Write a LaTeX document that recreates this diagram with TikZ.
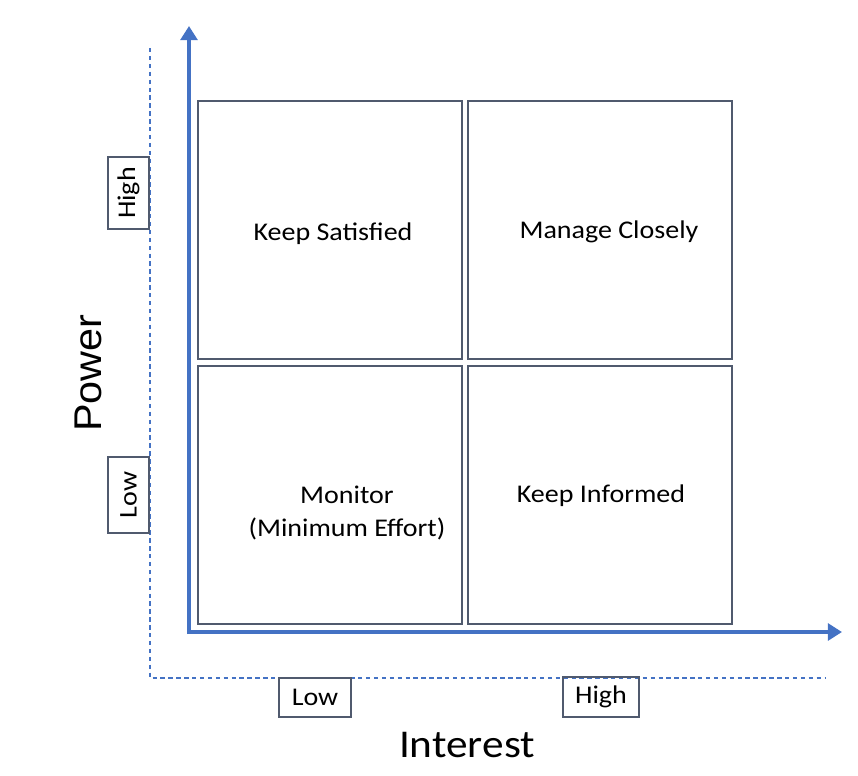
\documentclass[tikz,border=0pt]{standalone}
\usepackage{fontspec}
\setmainfont{Carlito}[FakeStretch=1.1]
\newfontfamily\arialwide{Liberation Sans}[FakeStretch=1.07]
\usetikzlibrary{arrows.meta}

\definecolor{axisblue}{RGB}{68,114,196}
\definecolor{boxgray}{RGB}{80,90,110}

\tikzset{
    quad/.style={draw=boxgray, line width=1.1pt, minimum width=264*0.02cm, minimum height=258*0.02cm, inner sep=0},
    tag/.style={draw=boxgray, line width=0.9pt, inner sep=0, font=\fontsize{14.5}{17}\selectfont},
    axis/.style={axisblue, line width=2.3pt, -{Triangle[length=8pt,width=9.5pt]}},
    guide/.style={axisblue, line width=0.6pt, dash pattern=on 2.5pt off 2pt},
    qtext/.style={font=\fontsize{14.5}{18.5}\selectfont, align=center}
}

\begin{document}
\begin{tikzpicture}[x=0.02cm, y=-0.02cm]
    \useasboundingbox (0,0) rectangle (858,775);

    % guide lines
    \coordinate (gtop) at (150,48);
    \coordinate (gcorner) at (150,678);
    \coordinate (gright) at (826,678);
    \draw[guide] (gtop) -- (gcorner) -- (gright);

    % quadrants
    \foreach \x/\y/\n in {330/230/tl, 600/230/tr, 330/495/bl, 600/495/br}{
        \node[quad] (\n) at (\x,\y) {};
    }
    \node[qtext] (ks) at (333,234) {Keep Satisfied};
    \node[qtext] (mc) at (609,232) {Manage Closely};
    \node[qtext] (mo) at (347,513) {Monitor\\(Minimum Effort)};
    \node[qtext] (ki) at (601,496) {Keep Informed};

    % axes
    \coordinate (O) at (189,632);
    \coordinate (ytip) at (189,26);
    \coordinate (xtip) at (842,632);
    \draw[axis] ([yshift=-0.04cm]O) -- (ytip);
    \draw[axis] ([xshift=-0.04cm]O) -- (xtip);

    % level tags
    \node[tag, rotate=90, minimum width=72*0.02cm, minimum height=41*0.02cm] (phigh) at (128.5,193) {High};
    \node[tag, rotate=90, minimum width=76*0.02cm, minimum height=41*0.02cm] (plow) at (128.5,495) {Low};
    \node[tag, minimum width=72*0.02cm, minimum height=39*0.02cm] (ilow) at (315,697.5) {Low};
    \node[tag, minimum width=76*0.02cm, minimum height=40*0.02cm] (ihigh) at (601,697) {High};

    % axis titles
    \node[rotate=90, font=\arialwide\fontsize{22}{26}\selectfont] (power) at (88,373) {Power};
    \node[font=\fontsize{22.4}{26}\selectfont] (interest) at (467,745) {Interest};
\end{tikzpicture}
\end{document}
